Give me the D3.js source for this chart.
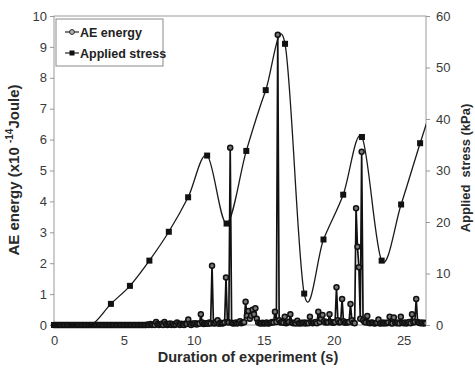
<!DOCTYPE html>
<html>
<head>
<meta charset="utf-8">
<script src="https://cdn.jsdelivr.net/npm/d3@7"></script>
<style>
  body { margin: 0; background: #fff; }
  svg { font-family: "Liberation Sans", Arial, sans-serif; }
</style>
</head>
<body>
<div id="viz"></div>
<script>
// AE energy, one reading every 0.1 s (rows = whole seconds)
const aeStep = 0.1;
const aeEnergy = [
  0, 0, 0, 0, 0, 0, 0, 0, 0, 0,
  0, 0, 0, 0, 0, 0, 0, 0, 0, 0,
  0, 0, 0, 0, 0, 0, 0, 0, 0, 0,
  0, 0, 0, 0, 0, 0, 0, 0, 0, 0,
  0, 0, 0, 0, 0, 0, 0, 0, 0, 0,
  0, 0, 0, 0, 0, 0, 0, 0, 0, 0,
  0, 0, 0, 0, 0, 0, 0, 0.02, 0, 0.03,
  0, 0.02, 0, 0.1, 0.03, 0, 0.02, 0.04, 0, 0.1,
  0.03, 0, 0.02, 0.05, 0, 0.03, 0, 0.02, 0.08, 0.03,
  0, 0.04, 0.02, 0, 0.05, 0.03, 0.18, 0.04, 0, 0.05,
  0.03, 0.06, 0.02, 0.05, 0.04, 0.35, 0.08, 0.03, 0.05, 0.06,
  0.04, 0.08, 0.05, 1.92, 0.06, 0.05, 0.1, 0.15, 0.04, 0.07,
  0.05, 0.06, 0.08, 1.54, 0.1, 0.08, 5.74, 0.07, 0.05, 0.06,
  0.08, 0.05, 0.07, 0.12, 0.06, 0.08, 0.09, 0.75, 0.3, 0.45,
  0.2, 0.3, 0.49, 0.35, 0.54, 0.2, 0.08, 0.06, 0.05, 0.07,
  0.05, 0.06, 0.08, 0.05, 0.06, 0.07, 0.1, 0.08, 0.43, 0.1,
  9.39, 0.15, 0.08, 0.1, 0.07, 0.27, 0.06, 0.08, 0.1, 0.35,
  0.08, 0.06, 0.07, 0.05, 0.14, 0.06, 0.05, 0.07, 0.06, 0.08,
  0.05, 0.07, 0.06, 0.27, 0.08, 0.06, 0.07, 0.1, 0.06, 0.43,
  0.1, 0.2, 0.32, 0.12, 0.08, 0.1, 0.08, 0.35, 0.1, 0.08,
  0.07, 0.1, 1.22, 0.15, 0.08, 0.1, 0.84, 0.12, 0.07, 0.09,
  0.08, 0.1, 0.68, 0.15, 0.07, 0.06, 3.78, 2.53, 1.87, 0.2,
  5.61, 0.15, 0.1, 0.08, 0.29, 0.07, 0.06, 0.08, 0.07, 0.05,
  0.06, 0.07, 0.18, 0.05, 0.06, 0.08, 0.05, 0.07, 0.06, 0.08,
  0.27, 0.06, 0.05, 0.24, 0.07, 0.06, 0.08, 0.05, 0.27, 0.07,
  0.06, 0.08, 0.05, 0.07, 0.1, 0.06, 0.35, 0.08, 0.1, 0.84,
  0.1, 0.07, 0.06, 0.08, 0.05, 0.07, 0.06
];

// Applied stress samples
const stressTime = [0, 1.3, 2.67, 4.07, 5.43, 6.82, 8.21, 9.59, 10.95, 12.34, 13.75,
  15.14, 16.52, 17.89, 19.27, 20.68, 22.02, 23.43, 24.82, 26.18, 27.57];
const stressValue = [0, 0, 0, 4.1, 7.6, 12.5, 18.1, 24.8, 32.9, 19.7, 33.8,
  45.6, 54.6, 6.1, 16.6, 25.3, 36.5, 12.5, 23.4, 35.3, 47];

const xTicks = [0, 5, 10, 15, 20, 25];
const aeTicks = d3.range(0, 11);
const stressTicks = [0, 10, 20, 30, 40, 50, 60];
const legendItems = ["AE energy", "Applied stress"];

const dims = { width: 475, height: 371, left: 54, top: 16, plotW: 372, plotH: 309 };

const aeData = aeEnergy.map((v, i) => ({ t: +(i * aeStep).toFixed(1), v: v }));
const stressData = stressTime.map((t, i) => ({ t: t, v: stressValue[i] }));

const svg = d3.select("#viz").append("svg")
  .attr("width", dims.width)
  .attr("height", dims.height);

const xScale = d3.scaleLinear().domain([0, 26.6]).range([dims.left, dims.left + dims.plotW]);
const yAE = d3.scaleLinear().domain([0, 10]).range([dims.top + dims.plotH, dims.top]);
const yStress = d3.scaleLinear().domain([0, 60]).range([dims.top + dims.plotH, dims.top]);

svg.append("defs").append("clipPath").attr("id", "plot-clip")
  .append("rect")
  .attr("x", dims.left - 4).attr("y", dims.top - 10)
  .attr("width", dims.plotW + 4).attr("height", dims.plotH + 20);

// plot frame
svg.append("rect")
  .attr("x", dims.left).attr("y", dims.top)
  .attr("width", dims.plotW).attr("height", dims.plotH)
  .style("fill", "none").style("stroke", "#9a9a9a").style("stroke-width", 1);

// axes
const tickColor = "#3a3a3a";
const leftAxis = svg.append("g")
  .attr("transform", `translate(${dims.left},0)`)
  .call(d3.axisLeft(yAE).tickValues(aeTicks).tickSize(4).tickPadding(3).tickFormat(d3.format("d")));
const rightAxis = svg.append("g")
  .attr("transform", `translate(${dims.left + dims.plotW},0)`)
  .call(d3.axisRight(yStress).tickValues(stressTicks).tickSize(4).tickPadding(6));
const bottomAxis = svg.append("g")
  .attr("transform", `translate(0,${dims.top + dims.plotH})`)
  .call(d3.axisBottom(xScale).tickValues(xTicks).tickSize(0).tickPadding(11));

[leftAxis, rightAxis, bottomAxis].forEach(a => {
  a.select(".domain").remove();
  a.selectAll("line").style("stroke", "#9a9a9a");
  a.selectAll("text")
    .style("font-family", "'Liberation Sans', Arial, sans-serif")
    .style("font-size", "13px")
    .style("fill", tickColor);
});

const plot = svg.append("g").attr("clip-path", "url(#plot-clip)");

// stress curve (smoothed)
plot.append("path")
  .datum(stressData)
  .attr("d", d3.line().x(d => xScale(d.t)).y(d => yStress(d.v)).curve(d3.curveCardinal.tension(0)))
  .style("fill", "none").style("stroke", "#1a1a1a").style("stroke-width", 1.3);

// AE energy line
plot.append("path")
  .datum(aeData)
  .attr("d", d3.line().x(d => xScale(d.t)).y(d => yAE(d.v)))
  .style("fill", "none").style("stroke", "#111").style("stroke-width", 1.7);

plot.selectAll(".ae-pt")
  .data(aeData)
  .join("circle")
  .attr("class", "ae-pt")
  .attr("cx", d => xScale(d.t))
  .attr("cy", d => yAE(d.v))
  .attr("r", 2.5)
  .style("fill", "#7a7a7a")
  .style("stroke", "#111")
  .style("stroke-width", 1.5);

plot.selectAll(".stress-pt")
  .data(stressData)
  .join("rect")
  .attr("class", "stress-pt")
  .attr("x", d => xScale(d.t) - 3)
  .attr("y", d => yStress(d.v) - 3)
  .attr("width", 6).attr("height", 6)
  .style("fill", "#111");

// legend
const legend = svg.append("g").attr("class", "legend");
legend.append("rect")
  .attr("x", 56).attr("y", 19).attr("width", 107).attr("height", 47)
  .style("fill", "#fff").style("stroke", "#8a8a8a").style("stroke-width", 1);

legendItems.forEach((name, i) => {
  const cy = 32 + i * 21;
  legend.append("line")
    .attr("x1", 65).attr("x2", 79).attr("y1", cy).attr("y2", cy)
    .style("stroke", "#222").style("stroke-width", 1.2);
  if (i === 0) {
    legend.append("circle").attr("cx", 72).attr("cy", cy).attr("r", 2.4)
      .style("fill", "#b5b5b5").style("stroke", "#222").style("stroke-width", 1);
  } else {
    legend.append("rect").attr("x", 69.5).attr("y", cy - 2.5).attr("width", 5).attr("height", 5)
      .style("fill", "#111");
  }
  legend.append("text")
    .attr("x", 80).attr("y", cy + 4.5)
    .style("font-size", "12.5px").style("font-weight", "bold").style("fill", "#222")
    .text(name);
});

// axis titles
const leftTitle = svg.append("text")
  .attr("transform", "translate(19,170) rotate(-90)")
  .attr("text-anchor", "middle")
  .style("font-size", "15px").style("font-weight", "bold").style("fill", "#2a2a2a");
leftTitle.append("tspan").text("AE energy (x10 ");
leftTitle.append("tspan").attr("dy", -6).style("font-size", "10px").text("-14");
leftTitle.append("tspan").attr("dy", 6).text("Joule)");

svg.append("text")
  .attr("transform", "translate(470,168) rotate(-90)")
  .attr("text-anchor", "middle")
  .style("font-size", "13px").style("font-weight", "bold").style("fill", "#2a2a2a")
  .style("white-space", "pre")
  .text("Applied  stress (kPa)");

svg.append("text")
  .attr("x", 248).attr("y", 362)
  .attr("text-anchor", "middle")
  .style("font-size", "14.5px").style("font-weight", "bold").style("fill", "#2a2a2a")
  .text("Duration of experiment (s)");
</script>
</body>
</html>
